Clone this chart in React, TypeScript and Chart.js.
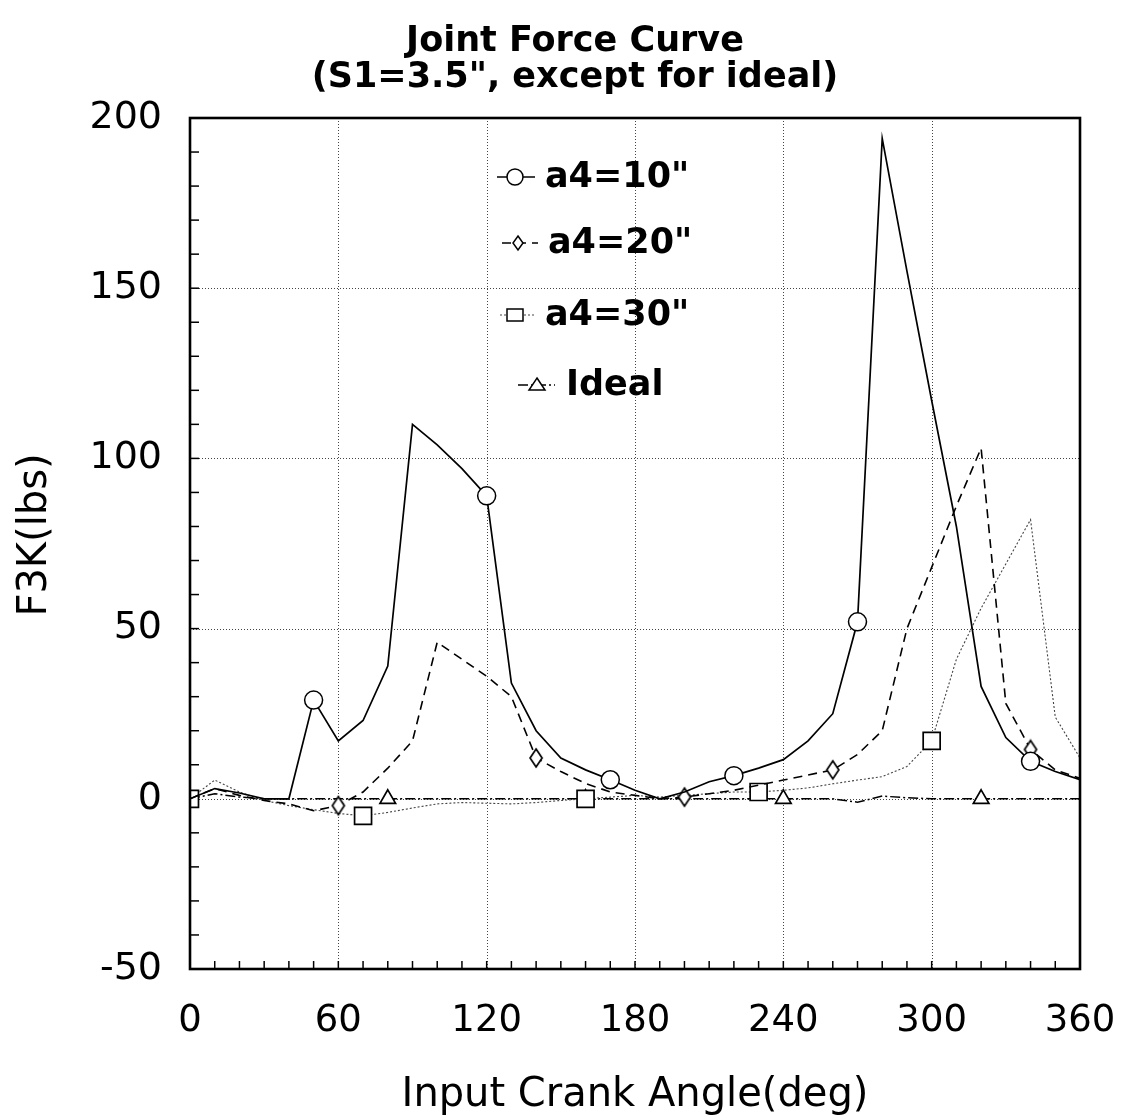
import React, { useEffect, useRef } from 'react';
import { Chart, registerables } from 'chart.js';

Chart.register(...registerables);

// ---- data ----
const angles = [0, 10, 20, 30, 40, 50, 60, 70, 80, 90, 100, 110, 120, 130, 140, 150, 160, 170, 180, 190, 200, 210, 220, 230, 240, 250, 260, 270, 280, 290, 300, 310, 320, 330, 340, 350, 360];
const a4_10 = [0, 3, 1.7, 0, 0, 29, 17, 23, 39, 110, 104, 97, 89, 34, 20, 12, 8.5, 5.6, 2.5, 0, 2, 5, 6.8, 9, 11.5, 17, 25, 52, 194, 155, 117, 80, 33, 18, 11, 8, 5.6];
const a4_20 = [0, 3, 1, -0.5, -1.5, -3.5, -2, 2, 9, 17, 46, 41, 36, 30, 12, 8, 4.5, 2, 1, 0, 0.5, 1.5, 2.5, 4, 5.5, 7, 8.5, 13, 20, 50, 68, 86, 103, 28, 14.5, 8.5, 6];
const a4_30 = [0, 5.5, 2, -0.5, -2, -3.2, -4.3, -5, -4, -2.7, -1.5, -1.1, -1.3, -1.5, -1.1, -0.5, 0, 0.5, 1, 0.5, 1, 1.5, 2, 2, 2.5, 3.2, 4.4, 5.5, 6.5, 9.5, 17, 41, 56, 69, 82, 24, 12];
const ideal = [0, 1.5, 0.5, 0, 0, 0, 0, 0, 0, 0, 0, 0, 0, 0, 0, 0, 0, 0, 0, 0, 0, 0, 0, 0, 0, 0, 0, -1, 0.8, 0.3, 0, 0, 0, 0, 0, 0, 0];

// angles where each series shows a marker
const markers10 = [50, 120, 170, 220, 270, 340];
const markers20 = [60, 140, 200, 260, 340];
const markers30 = [0, 70, 160, 230, 300];
const markersIdeal = [0, 80, 160, 240, 320];

const xTicks = [0, 60, 120, 180, 240, 300, 360];
const yTicks = [-50, 0, 50, 100, 150, 200];
const xMinorStep = 10;
const yMinorStep = 10;

const seriesLabels = ['a4=10"', 'a4=20"', 'a4=30"', 'Ideal'];
const titleLines = ['Joint Force Curve', '(S1=3.5", except for ideal)'];
const xTitle = 'Input Crank Angle(deg)';
const yTitle = 'F3K(lbs)';

const FONT = '"DejaVu Sans", "Liberation Sans", Arial, sans-serif';

function makeDiamond(w: number, h: number, lw: number): HTMLCanvasElement {
  const c = document.createElement('canvas');
  c.width = w + 4;
  c.height = h + 4;
  const g = c.getContext('2d')!;
  const cx = c.width / 2;
  const cy = c.height / 2;
  g.beginPath();
  g.moveTo(cx, cy - h / 2);
  g.lineTo(cx + w / 2, cy);
  g.lineTo(cx, cy + h / 2);
  g.lineTo(cx - w / 2, cy);
  g.closePath();
  g.fillStyle = '#fff';
  g.fill();
  g.lineWidth = lw;
  g.strokeStyle = '#000';
  g.stroke();
  return c;
}

export default function App() {
  const ref = useRef<HTMLCanvasElement | null>(null);

  useEffect(() => {
    if (!ref.current) return;
    const diamond = makeDiamond(12, 18, 1.7);
    const diamondSmall = makeDiamond(10, 14, 1.5);

    const pts = (vals: number[]) => angles.map((a, i) => ({ x: a, y: vals[i] }));
    const radiusAt = (list: number[], r: number) => (ctx: any) => {
      const raw = ctx.raw as { x: number } | undefined;
      return raw && list.includes(raw.x) ? r : 0;
    };

    const styles = [
      { dash: [] as number[], width: 1.7, color: '#000' },
      { dash: [9, 6], width: 1.6, color: '#000' },
      { dash: [2, 2], width: 1.1, color: '#444' },
      { dash: [10, 3, 2, 3], width: 1.5, color: '#000' },
    ];

    const decor = {
      id: 'decor',
      beforeDatasetsDraw(chart: any) {
        const { ctx, chartArea: ca, scales } = chart;
        const xs = scales.x;
        const ys = scales.y;
        ctx.save();
        ctx.strokeStyle = '#444';
        ctx.lineWidth = 1;
        ctx.setLineDash([1, 2]);
        xTicks.forEach((v) => {
          if (v === xs.min || v === xs.max) return;
          const px = Math.round(xs.getPixelForValue(v)) + 0.5;
          ctx.beginPath();
          ctx.moveTo(px, ca.top);
          ctx.lineTo(px, ca.bottom);
          ctx.stroke();
        });
        yTicks.forEach((v) => {
          if (v === ys.min || v === ys.max) return;
          const py = Math.round(ys.getPixelForValue(v)) + 0.5;
          ctx.beginPath();
          ctx.moveTo(ca.left, py);
          ctx.lineTo(ca.right, py);
          ctx.stroke();
        });
        ctx.setLineDash([]);
        ctx.strokeStyle = '#000';
        ctx.lineWidth = 1.5;
        for (let v = xs.min + xMinorStep; v < xs.max; v += xMinorStep) {
          const px = xs.getPixelForValue(v);
          ctx.beginPath();
          ctx.moveTo(px, ca.bottom);
          ctx.lineTo(px, ca.bottom - 8);
          ctx.stroke();
        }
        for (let v = ys.min + yMinorStep; v < ys.max; v += yMinorStep) {
          const py = ys.getPixelForValue(v);
          ctx.beginPath();
          ctx.moveTo(ca.left, py);
          ctx.lineTo(ca.left + 9, py);
          ctx.stroke();
        }
        ctx.restore();
      },
      afterDatasetsDraw(chart: any) {
        const { ctx, chartArea: ca } = chart;
        ctx.save();
        ctx.strokeStyle = '#000';
        ctx.lineWidth = 2.6;
        ctx.setLineDash([]);
        ctx.strokeRect(ca.left, ca.top, ca.right - ca.left, ca.bottom - ca.top);

        const items = [
          { x0: 497, x1: 535, mx: 515, y: 177, tx: 545 },
          { x0: 502, x1: 538, mx: 518, y: 243, tx: 548 },
          { x0: 500, x1: 535, mx: 515, y: 315, tx: 545 },
          { x0: 518, x1: 555, mx: 537, y: 385, tx: 566 },
        ];
        items.forEach((it, i) => {
          const st = styles[i];
          ctx.strokeStyle = st.color;
          ctx.lineWidth = st.width;
          ctx.setLineDash(st.dash);
          ctx.beginPath();
          ctx.moveTo(it.x0, it.y);
          ctx.lineTo(it.x1, it.y);
          ctx.stroke();
          ctx.setLineDash([]);
          ctx.lineWidth = 1.5;
          ctx.strokeStyle = '#000';
          ctx.fillStyle = '#fff';
          if (i === 0) {
            ctx.beginPath();
            ctx.arc(it.mx, it.y, 8, 0, Math.PI * 2);
            ctx.fill();
            ctx.stroke();
          } else if (i === 1) {
            ctx.drawImage(diamondSmall, it.mx - diamondSmall.width / 2, it.y - diamondSmall.height / 2);
          } else if (i === 2) {
            ctx.fillRect(it.mx - 8, it.y - 6, 16, 12);
            ctx.strokeRect(it.mx - 8, it.y - 6, 16, 12);
          } else {
            ctx.beginPath();
            ctx.moveTo(it.mx, it.y - 7);
            ctx.lineTo(it.mx + 8, it.y + 5);
            ctx.lineTo(it.mx - 8, it.y + 5);
            ctx.closePath();
            ctx.fill();
            ctx.stroke();
          }
          ctx.fillStyle = '#000';
          ctx.font = `bold 35px ${FONT}`;
          ctx.textAlign = 'left';
          ctx.textBaseline = 'middle';
          ctx.fillText(seriesLabels[i], it.tx, it.y + 1);
        });
        ctx.restore();
      },
      afterDraw(chart: any) {
        const { ctx, chartArea: ca } = chart;
        ctx.save();
        ctx.fillStyle = '#000';
        ctx.textAlign = 'center';
        ctx.textBaseline = 'alphabetic';
        ctx.font = `bold 35px ${FONT}`;
        ctx.fillText(titleLines[0], 575, 51);
        ctx.fillText(titleLines[1], 575, 87);
        ctx.font = `40px ${FONT}`;
        ctx.fillText(xTitle, (ca.left + ca.right) / 2, 1106);
        ctx.translate(46, 535);
        ctx.rotate(-Math.PI / 2);
        ctx.fillText(yTitle, 0, 0);
        ctx.restore();
      },
    };

    const chart = new Chart(ref.current, {
      type: 'line',
      data: {
        datasets: [
          {
            label: seriesLabels[0],
            data: pts(a4_10),
            borderColor: styles[0].color,
            borderWidth: styles[0].width,
            borderDash: styles[0].dash,
            pointStyle: 'circle',
            pointRadius: radiusAt(markers10, 9),
            pointBackgroundColor: '#fff',
            pointBorderColor: '#000',
            pointBorderWidth: 1.5,
          },
          {
            label: seriesLabels[1],
            data: pts(a4_20),
            borderColor: styles[1].color,
            borderWidth: styles[1].width,
            borderDash: styles[1].dash,
            pointStyle: diamond,
            pointRadius: radiusAt(markers20, 7),
            pointBackgroundColor: '#fff',
            pointBorderColor: '#000',
            pointBorderWidth: 1.5,
          },
          {
            label: seriesLabels[2],
            data: pts(a4_30),
            borderColor: styles[2].color,
            borderWidth: styles[2].width,
            borderDash: styles[2].dash,
            pointStyle: 'rect',
            pointRadius: radiusAt(markers30, 12),
            pointBackgroundColor: '#fff',
            pointBorderColor: '#000',
            pointBorderWidth: 1.7,
          },
          {
            label: seriesLabels[3],
            data: pts(ideal),
            borderColor: styles[3].color,
            borderWidth: styles[3].width,
            borderDash: styles[3].dash,
            pointStyle: 'triangle',
            pointRadius: radiusAt(markersIdeal, 9),
            pointBackgroundColor: '#fff',
            pointBorderColor: '#000',
            pointBorderWidth: 1.7,
          },
        ],
      },
      options: {
        animation: false,
        responsive: false,
        maintainAspectRatio: false,
        layout: { padding: { left: 0, right: 45, top: 118, bottom: 0 } },
        plugins: {
          legend: { display: false },
          title: { display: false },
          tooltip: { enabled: false },
        },
        elements: { line: { tension: 0, fill: false } },
        scales: {
          x: {
            type: 'linear',
            min: 0,
            max: 360,
            afterBuildTicks: (s: any) => {
              s.ticks = xTicks.map((v) => ({ value: v }));
            },
            afterFit: (s: any) => {
              s.height = 151;
              s.paddingLeft = 0;
              s.paddingRight = 0;
            },
            grid: { display: false, drawTicks: false },
            border: { display: false },
            ticks: {
              color: '#000',
              font: { family: FONT, size: 37 },
              padding: 30,
              maxRotation: 0,
              autoSkip: false,
            },
          },
          y: {
            type: 'linear',
            min: -50,
            max: 200,
            afterBuildTicks: (s: any) => {
              s.ticks = yTicks.map((v) => ({ value: v }));
            },
            afterFit: (s: any) => {
              s.width = 190;
              s.paddingTop = 0;
              s.paddingBottom = 0;
            },
            grid: { display: false, drawTicks: false },
            border: { display: false },
            ticks: {
              color: '#000',
              font: { family: FONT, size: 38 },
              padding: 28,
              autoSkip: false,
            },
          },
        },
      },
      plugins: [decor],
    } as any);

    return () => {
      chart.destroy();
    };
  }, []);

  return (
    <div style={{ position: 'absolute', left: 0, top: 0, width: 1125, height: 1120, background: '#fff' }}>
      <canvas ref={ref} width={1125} height={1120} style={{ display: 'block', width: 1125, height: 1120 }} />
    </div>
  );
}
